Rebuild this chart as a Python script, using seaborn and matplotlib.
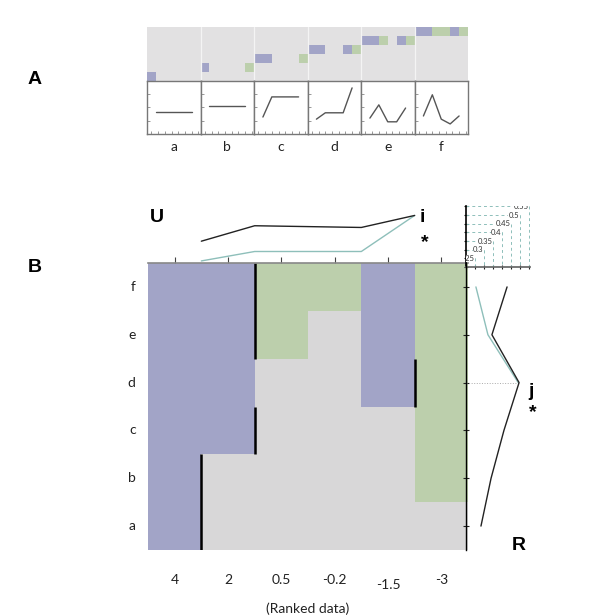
import numpy as np
import pandas as pd
import matplotlib
matplotlib.use("Agg")
import matplotlib.pyplot as plt
import matplotlib.transforms as mtransforms
from matplotlib.colors import ListedColormap
import seaborn as sns

# ==============================
# data
# ==============================
rows = ["a", "b", "c", "d", "e", "f"]
ranked = ["4", "2", "0.5", "-0.2", "-1.5", "-3"]

# 0 = grey, 1 = purple, 2 = green (row a..f, ranked columns left->right)
cell_a = [1, 0, 0, 0, 0, 0]
cell_b = [1, 0, 0, 0, 0, 2]
cell_c = [1, 1, 0, 0, 0, 2]
cell_d = [1, 1, 0, 0, 1, 2]
cell_e = [1, 1, 2, 0, 1, 2]
cell_f = [1, 1, 2, 2, 1, 2]
cells = [cell_a, cell_b, cell_c, cell_d, cell_e, cell_f]

# split position (column boundary) drawn as black bar for each row
split = [1, 1, 2, 5, 2, 2]

# small profiles in panel A (values at boundaries 1..5)
prof_a = [0.415, 0.415, 0.415, 0.415, 0.415]
prof_b = [0.53, 0.53, 0.53, 0.53, 0.53]
prof_c = [0.32, 0.70, 0.70, 0.70, 0.70]
prof_d = [0.28, 0.40, 0.40, 0.40, 0.87]
prof_e = [0.30, 0.55, 0.23, 0.23, 0.49]
prof_f = [0.34, 0.74, 0.28, 0.19, 0.34]
profiles = [prof_a, prof_b, prof_c, prof_d, prof_e, prof_f]

# U panel (columns), boundaries 1..5
u_black = [0.35, 0.44, 0.435, 0.43, 0.50]
u_teal = [0.235, 0.29, 0.29, 0.29, 0.50]

# R panel (rows a..f)
r_black = [0.286, 0.344, 0.418, 0.505, 0.349, 0.436]
r_teal = [None, None, None, 0.50, 0.326, 0.257]

scale_levels = [0.25, 0.3, 0.35, 0.4, 0.45, 0.5, 0.55]

# ==============================
# style
# ==============================
sns.set_theme(style="white")
plt.rcParams["font.family"] = ["Lato", "DejaVu Sans"]

GREY = "#D8D7D8"
GREY_A = "#E2E1E2"
PURPLE = "#A2A4C7"
GREEN = "#BCCFAC"
TEAL = "#8EBFBA"
DARK = "#222222"

W, H = 600, 616
fig = plt.figure(figsize=(W / 100, H / 100), dpi=100)


def px(x0, y0, x1, y1):
    return [x0 / W, 1 - y1 / H, (x1 - x0) / W, (y1 - y0) / H]


# ==============================
# Panel A: staircase strip
# ==============================
strip = np.full((6, 36), np.nan)
for r in range(6):
    for j in range(6):
        if cells[r][j] > 0:
            strip[5 - r, 6 * r + j] = cells[r][j]

axs = fig.add_axes(px(147, 27, 468, 81))
axs.set_facecolor(GREY_A)
sns.heatmap(strip, ax=axs, cmap=ListedColormap([PURPLE, GREEN]), vmin=0.5, vmax=2.5,
            cbar=False, xticklabels=False, yticklabels=False)
for b in range(1, 6):
    axs.axvline(6 * b, color="#F4F4F4", lw=0.9)
axs.set_xlim(0, 36)
axs.set_ylim(6, 0)

col_w = (468 - 147) / 6
for r in range(6):
    x0 = 147 + r * col_w
    ax = fig.add_axes(px(x0, 81, x0 + col_w, 134))
    sns.lineplot(x=[1, 2, 3, 4, 5], y=profiles[r], ax=ax, color="#555555", lw=1)
    ax.set_xlim(0, 6)
    ax.set_ylim(0, 1)
    ax.set_xticks(np.arange(0.5, 6, 0.75))
    ax.set_yticks([0.25, 0.5, 0.75])
    ax.tick_params(direction="in", length=2, width=0.6, color="#888888",
                   labelbottom=False, labelleft=False, bottom=True, left=True)
    for s in ax.spines.values():
        s.set_color("#777777")
        s.set_linewidth(1)
    ax.set_xlabel("")
    ax.set_ylabel("")
    fig.text((x0 + col_w / 2) / W, 1 - 147 / H, rows[r], ha="center", va="center",
             fontsize=10, color="#222222")

fig.text(28 / W, 1 - 80 / H, "A", fontsize=14, fontweight="bold",
         family="Liberation Sans", ha="left", va="center", color="black")
fig.text(28 / W, 1 - 268 / H, "B", fontsize=14, fontweight="bold",
         family="Liberation Sans", ha="left", va="center", color="black")

# ==============================
# Panel B: main heatmap
# ==============================
grid = pd.DataFrame(cells[::-1], index=rows[::-1], columns=ranked)
axm = fig.add_axes(px(148, 263, 468, 550))
sns.heatmap(grid, ax=axm, cmap=ListedColormap([GREY, PURPLE, GREEN]), vmin=-0.5, vmax=2.5,
            cbar=False, linewidths=0)

# merge consecutive rows sharing the same split into one bar
r = 0
while r < 6:
    r2 = r
    while r2 + 1 < 6 and split[r2 + 1] == split[r]:
        r2 += 1
    axm.vlines(split[r], 5 - r2, 6 - r, color="black", lw=1.8)
    r = r2 + 1

axm.tick_params(length=0, labelsize=10, colors="#222222")
axm.tick_params(axis="y", pad=9)
axm.tick_params(axis="x", pad=17)
axm.set_yticklabels(rows[::-1], rotation=0)
axm.set_xticklabels(ranked, rotation=0)
lbl = axm.get_xticklabels()[4]
lbl.set_transform(lbl.get_transform() + mtransforms.ScaledTranslation(0, -4 / 72, fig.dpi_scale_trans))
axm.set_xlabel("(Ranked data)", fontsize=10, labelpad=8, color="#222222")
axm.set_ylabel("")

# ==============================
# U panel (top)
# ==============================
axu = fig.add_axes(px(148, 206, 468, 263))
sns.lineplot(x=[1, 2, 3, 4, 5], y=u_teal, ax=axu, color=TEAL, lw=1)
sns.lineplot(x=[1, 2, 3, 4, 5], y=u_black, ax=axu, color=DARK, lw=1)
axu.set_xlim(0, 6)
axu.set_ylim(0.223, 0.555)
axu.patch.set_alpha(0)
for s in ["top", "left", "right"]:
    axu.spines[s].set_visible(False)
axu.spines["bottom"].set_color("#888888")
axu.spines["bottom"].set_linewidth(1.2)
axu.set_xticks(np.arange(0.5, 6, 1))
axu.set_yticks([])
axu.tick_params(axis="x", direction="in", length=4, width=0.8, color="#444444",
                labelbottom=False, bottom=True)
axu.set_xlabel("")
axu.set_ylabel("")

fig.text(157 / W, 1 - 217 / H, "U", fontsize=14, fontweight="bold",
         family="Liberation Sans", ha="center", va="center", color="black")
fig.text(422 / W, 1 - 218 / H, "i", fontsize=14, fontweight="bold",
         family="Liberation Sans", ha="center", va="center", color="black")
fig.text(425 / W, 1 - 243 / H, "*", fontsize=14, fontweight="bold",
         family="Liberation Sans", ha="center", va="center", color="black")

# ==============================
# scale inset
# ==============================
axk = fig.add_axes(px(466, 206, 530, 267))
axk.set_xlim(0.2, 0.555)
axk.set_ylim(0.2, 0.552)
axk.patch.set_alpha(0)
for v in scale_levels:
    axk.plot([0.2, v], [v, v], color=TEAL, lw=0.7, dashes=(3, 3))
    axk.plot([v, v], [v, 0.2], color=TEAL, lw=0.7, dashes=(3, 3))
    lab = f"{v:g}"
    axk.text(v - 0.004, v, lab, ha="right", va="center", fontsize=5.5, color="#333333",
             bbox=dict(fc="white", ec="none", pad=0.2), clip_on=True)
for s in ["top", "right"]:
    axk.spines[s].set_visible(False)
axk.spines["left"].set_color("black")
axk.spines["left"].set_linewidth(1.2)
axk.spines["bottom"].set_color("#666666")
axk.set_xticks(np.arange(0.2, 0.56, 0.05))
axk.set_yticks(np.arange(0.2, 0.56, 0.05))
axk.tick_params(direction="inout", length=3, width=0.8, color="#222222",
                labelbottom=False, labelleft=False, bottom=True, left=True)

# ==============================
# R panel (right)
# ==============================
axr = fig.add_axes(px(466, 263, 545, 550))
ypos = [5.5 - r for r in range(6)]
axr.set_ylim(6, 0)
axr.set_xlim(0.2, 0.654)
axr.patch.set_alpha(0)
axr.plot([0.2, r_black[3]], [ypos[3], ypos[3]], color="#AAAAAA", lw=0.7, ls=":")
t_y = [ypos[r] for r in range(6) if r_teal[r] is not None]
t_x = [v for v in r_teal if v is not None]
axr.plot(t_x, t_y, color=TEAL, lw=1)
axr.plot(r_black, ypos, color=DARK, lw=1)
for s in ["top", "right", "bottom"]:
    axr.spines[s].set_visible(False)
axr.spines["left"].set_color("black")
axr.spines["left"].set_linewidth(1)
axr.set_yticks(ypos)
axr.set_xticks([])
axr.tick_params(axis="y", direction="inout", length=4, width=0.8, color="#222222",
                labelleft=False, left=True)

fig.text(531 / W, 1 - 391 / H, "j", fontsize=14, fontweight="bold",
         family="Liberation Sans", ha="center", va="center", color="black")
fig.text(533 / W, 1 - 413 / H, "*", fontsize=14, fontweight="bold",
         family="Liberation Sans", ha="center", va="center", color="black")
fig.text(519 / W, 1 - 545 / H, "R", fontsize=14, fontweight="bold",
         family="Liberation Sans", ha="center", va="center", color="black")

fig.savefig("out.png", dpi=100)
